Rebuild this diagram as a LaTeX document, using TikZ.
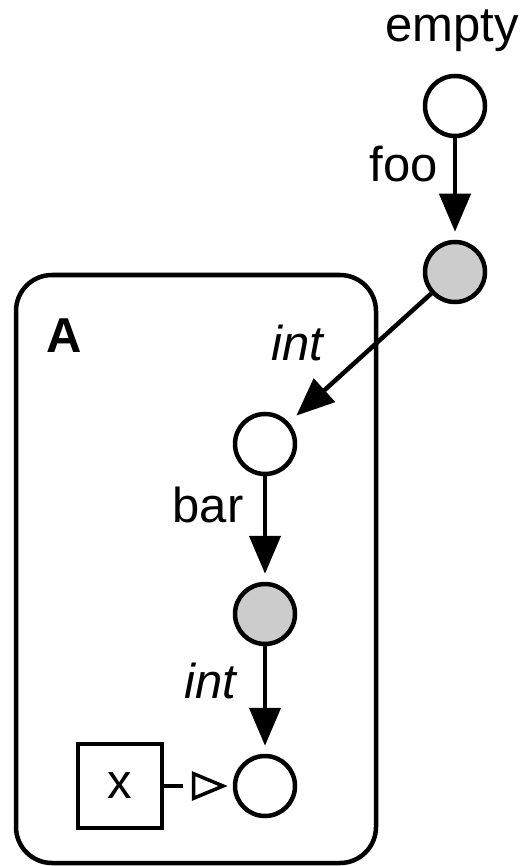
\documentclass[tikz,border=0pt]{standalone}
\usepackage{fontspec}
\setmainfont{Liberation Sans}
\usepackage{tikz}
\usetikzlibrary{arrows.meta, positioning}
\definecolor{shade}{RGB}{204, 204, 204}
\tikzstyle{state} = [circle, draw=black, line width=4.5pt, fill=white, minimum size=60pt, inner sep=0pt]
\tikzstyle{result} = [state, fill=shade]
\tikzstyle{tag} = [inner sep=0pt, font=\fontsize{49}{58}\selectfont]
\tikzstyle{arrow} = [line width=4.5pt, -{Triangle[length=38pt, width=31pt]}, shorten >=8pt]
\tikzstyle{feed} = [line width=3.5pt, shorten >=50pt]
\tikzstyle{feedtip} = [line width=3.5pt, -{Triangle[open, length=36pt, width=29pt]}, shorten <=30pt, shorten >=5pt]
\tikzstyle{container} = [rectangle, draw=black, line width=4.5pt, rounded corners=36pt]

\begin{document}
\begin{tikzpicture}[x=1pt, y=-1pt]
    \useasboundingbox (0,0) rectangle (531,866);

    % Block A
    \node[container, minimum width=360pt, minimum height=588pt] (blockA) at (196,569) {};
    \node[tag, anchor=base west] (nameA) at (46,352) {\textbf{A}};

    % Outside
    \node[tag, anchor=base] (empty) at (452,42) {empty};
    \node[state] (start) at (455,106) {};
    \node[result] (foo) at (455,272) {};
    \node[tag, anchor=base east] (fooLabel) at (438,182) {foo};

    % Inside
    \node[state] (in) at (265,444) {};
    \node[result] (bar) at (265,614) {};
    \node[state] (out) at (265,786) {};
    \node[tag, draw=black, line width=3.5pt, minimum size=84pt] (x) at (120,786) {x};

    \node[tag, anchor=base] (intTop) at (298,360) {\textit{int}};
    \node[tag, anchor=base] (barLabel) at (208,522) {bar};
    \node[tag, anchor=base] (intBottom) at (211,698) {\textit{int}};

    % Connections
    \draw[arrow] (start) -- (foo);
    \draw[arrow, shorten >=10pt] (foo) -- (in);
    \draw[arrow] (in) -- (bar);
    \draw[arrow] (bar) -- (out);
    \draw[feed] (x) -- (out);
    \draw[feedtip] (x) -- (out);
\end{tikzpicture}
\end{document}
